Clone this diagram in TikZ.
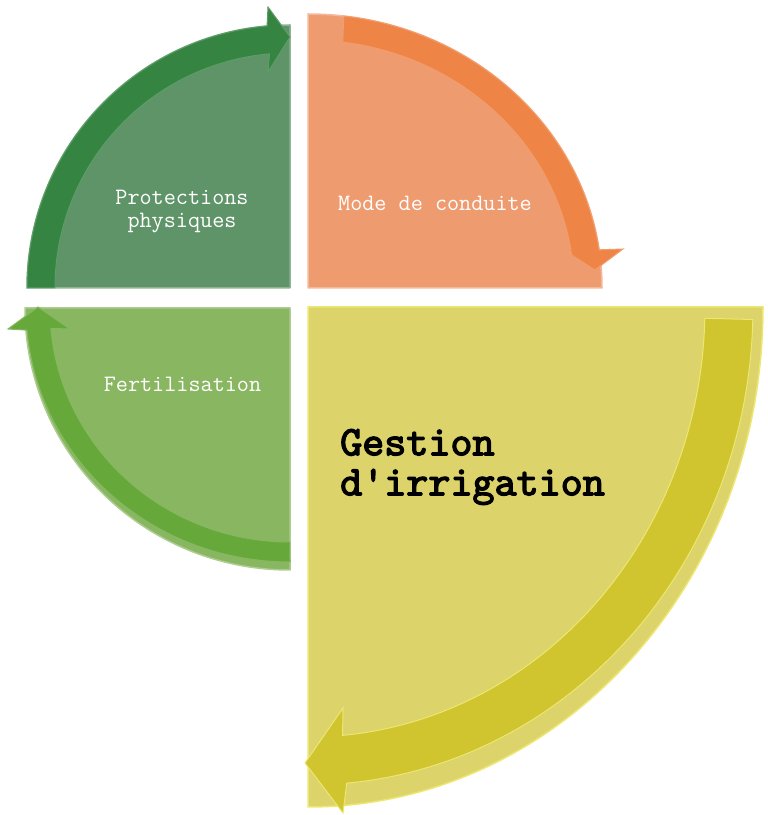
\documentclass[tikz,border=0pt]{standalone}
\usepackage{fontspec}
\newfontfamily\irrfont{lmmono10-regular.otf}[FakeBold=3]

\definecolor{protfill}{HTML}{5E9468}
\definecolor{protarrow}{HTML}{358442}
\definecolor{condfill}{HTML}{EF9B70}
\definecolor{condarrow}{HTML}{EE8547}
\definecolor{fertfill}{HTML}{89B661}
\definecolor{fertarrow}{HTML}{67A83A}
\definecolor{irrfill}{HTML}{DCD36A}
\definecolor{irrarrow}{HTML}{D0C42F}
\definecolor{irredge}{HTML}{EDE772}

\begin{document}
\begin{tikzpicture}[x=1pt, y=1pt,
  quarter/.style={line width=1.5pt, line join=round},
  arrowband/.style={line width=1pt, line join=miter},
  segtext/.style={font=\ttfamily\fontsize{23.5}{23}\selectfont, text=white,
                  align=center, inner sep=0pt},
  irrtext/.style={font=\irrfont\fontsize{42}{40}\selectfont,
                  text=black, align=left, inner sep=0pt}
]
\useasboundingbox (0,0) rectangle (768,815);

% quarters
\filldraw[quarter, fill=protfill, draw=protfill!70!white]
  (290,527) -- (27,527) arc[start angle=180, end angle=90, radius=263] -- cycle;
\filldraw[quarter, fill=condfill, draw=condfill!70!white]
  (308,527) -- (308,801) arc[start angle=90, end angle=0, x radius=294, y radius=274] -- cycle;
\filldraw[quarter, fill=fertfill, draw=fertfill!70!white]
  (290,507) -- (290,245) arc[start angle=270, end angle=180, x radius=265, y radius=262] -- cycle;
\filldraw[quarter, fill=irrfill, draw=irredge]
  (308,508) -- (763,508) arc[start angle=0, end angle=-90, x radius=455, y radius=500] -- cycle;

% curved arrows
\filldraw[arrowband, fill=protarrow, draw=protarrow!80!white]
  (27,527) arc[start angle=180, end angle=95, radius=263]
  -- (268,808) -- (290,778) -- (268,743)
  -- (269.5,761.1) arc[start angle=95, end angle=180, radius=235] -- cycle;
\filldraw[arrowband, fill=condarrow, draw=condarrow!80!white]
  (343.8,799) arc[start angle=83, end angle=8, x radius=294, y radius=274]
  -- (623,566) -- (595,545) -- (562,566)
  -- (571.4,561.5) arc[start angle=8, end angle=82.5, x radius=266, y radius=248] -- cycle;
\filldraw[arrowband, fill=fertarrow, draw=fertarrow!80!white]
  (290,253) arc[start angle=270, end angle=185, x radius=264, y radius=254]
  -- (8,486) -- (38,508) -- (70,486)
  -- (50.9,486.6) arc[start angle=185, end angle=270, x radius=240, y radius=234] -- cycle;
\filldraw[arrowband, fill=irrarrow, draw=irredge]
  (752.8,495.5) arc[start angle=-1.5, end angle=-85, x radius=445, y radius=478]
  -- (343,2) -- (305,52) -- (343,107)
  -- (342.6,79.6) arc[start angle=-85, end angle=-1.5, x radius=397, y radius=430] -- cycle;

% texts
\node[segtext] (protect) at (182,603) {Protections\\physiques};
\node[segtext, anchor=base] (conduite) at (435,604) {Mode de conduite};
\node[segtext, anchor=base] (fertil) at (182.5,423) {Fertilisation};
\node[irrtext, anchor=west] (irrig) at (340,348) {Gestion\\d'irrigation};
\end{tikzpicture}
\end{document}
